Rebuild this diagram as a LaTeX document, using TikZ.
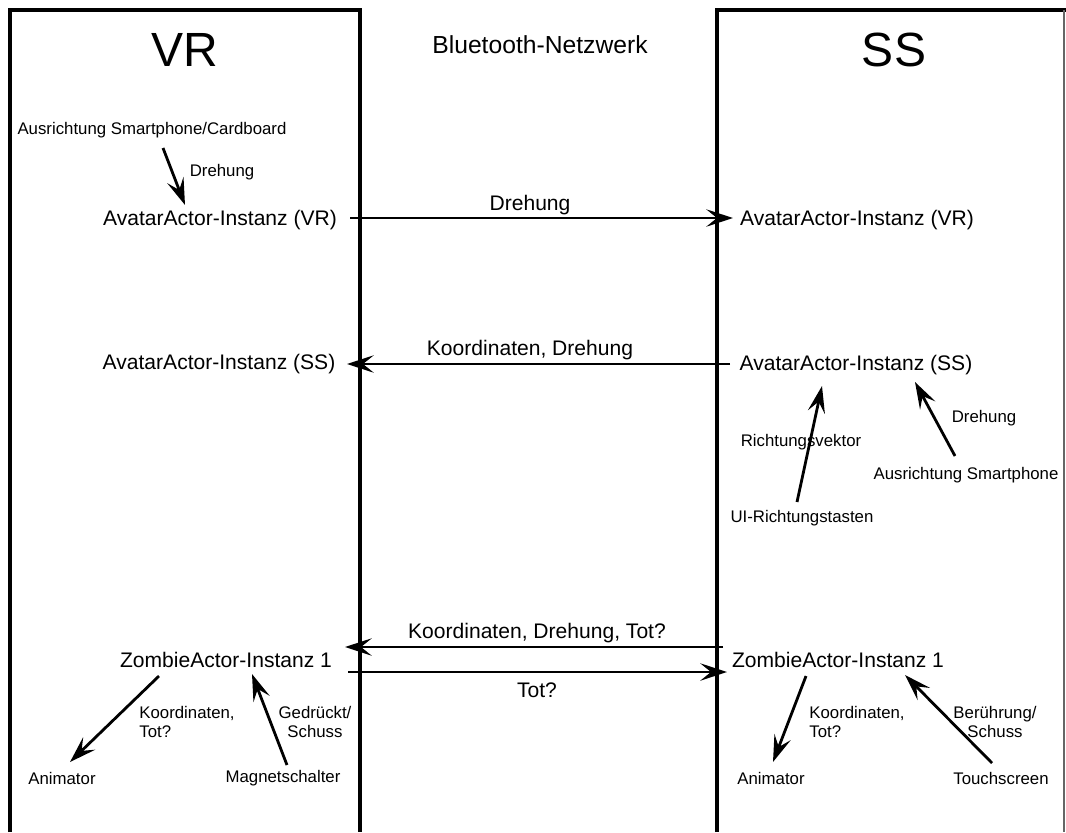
\documentclass[tikz,border=0pt]{standalone}
\usepackage{fontspec}
\setmainfont{Liberation Sans}
\usetikzlibrary{arrows.meta}

\begin{document}
\begin{tikzpicture}[x=0.75pt,y=-0.75pt,
  big/.style={font=\fontsize{36}{40}\selectfont, inner sep=0pt},
  title/.style={font=\fontsize{18.5}{21}\selectfont, inner sep=0pt},
  mid/.style={font=\fontsize{15.8}{18}\selectfont, inner sep=0pt},
  small/.style={font=\fontsize{12.6}{14.4}\selectfont, inner sep=0pt, align=center},
  smallleft/.style={small, align=left},
  frame/.style={line width=3pt},
  thinframe/.style={line width=2.3pt},
  arr/.style={line width=2.1pt, -{Stealth[length=20pt,width=13pt,inset=8pt]}},
]
\useasboundingbox (0,0) rectangle (1066,832);

% device frames
\draw[frame] (10,832) -- (10,10) -- (360,10) -- (360,832);
\draw[thinframe] (717,832) -- (717,10) -- (1066,10);
\draw[line width=1.3pt, black!60] (1064,10) -- (1064,832);

% headings
\node[big] (vr) at (185,50) {VR};
\node[big] (ss) at (894,50) {SS};
\node[title] (bt) at (540,45) {Bluetooth-Netzwerk};

% VR side
\node[small] (ausvr) at (152,130) {Ausrichtung Smartphone/Cardboard};
\node[small] (drvr) at (222,172) {Drehung};
\node[mid] (avl) at (220,220) {AvatarActor-Instanz (VR)};
\node[mid] (asl) at (219,364) {AvatarActor-Instanz (SS)};
\node[mid] (zl) at (226,660) {ZombieActor-Instanz 1};
\node[small] (anl) at (62,778) {Animator};
\node[small] (mag) at (283,778) {Magnetschalter};
\node[smallleft] (kol) at (187,722) {Koordinaten,\\Tot?};
\node[small] (gds) at (315,722) {Gedrückt/\\Schuss};

% SS side
\node[mid] (avr) at (857,220) {AvatarActor-Instanz (VR)};
\node[mid] (asr) at (856,365) {AvatarActor-Instanz (SS)};
\node[small] (rv) at (801,442) {Richtungsvektor};
\node[small] (ui) at (802,518) {UI-Richtungstasten};
\node[small] (drss) at (984,418) {Drehung};
\node[small] (aus2) at (966,475) {Ausrichtung Smartphone};
\node[mid] (zr) at (838,660) {ZombieActor-Instanz 1};
\node[small] (anr) at (771,778) {Animator};
\node[small] (touch) at (1001,778) {Touchscreen};
\node[smallleft] (kor) at (857,722) {Koordinaten,\\Tot?};
\node[small] (bs) at (995,722) {Berührung/\\Schuss};

% network messages
\node[mid] (m1) at (530,205) {Drehung};
\node[mid] (m2) at (530,350) {Koordinaten, Drehung};
\node[mid] (m3) at (537,633) {Koordinaten, Drehung, Tot?};
\node[mid] (m4) at (537,690) {Tot?};

% local data flow
\draw[arr] ([shift={(11,18)}]ausvr.center) -- ([shift={(-35,-15)}]avl.center);
\draw[arr] ([shift={(-5,-16)}]ui.center) -- ([shift={(-34,21)}]asr.center);
\draw[arr] ([shift={(-11,-19)}]aus2.center) -- ([shift={(59,17)}]asr.center);
\draw[arr] ([shift={(-67,16)}]zl.center) -- ([shift={(8,-16)}]anl.center);
\draw[arr] ([shift={(4,-13)}]mag.center) -- ([shift={(26,14)}]zl.center);
\draw[arr] ([shift={(-32,16)}]zr.center) -- ([shift={(2,-16)}]anr.center);
\draw[arr] ([shift={(-9,-15)}]touch.center) -- ([shift={(67,15)}]zr.center);

% transfers over the network
\draw[arr] ([shift={(130,-2)}]avl.center) -- ([shift={(-124,-2)}]avr.center);
\draw[arr] ([shift={(-126,-1)}]asr.center) -- ([shift={(128,0)}]asl.center);
\draw[arr] ([shift={(-115,-13)}]zr.center) -- ([shift={(119,-13)}]zl.center);
\draw[arr] ([shift={(122,12)}]zl.center) -- ([shift={(-111,12)}]zr.center);
\end{tikzpicture}
\end{document}
